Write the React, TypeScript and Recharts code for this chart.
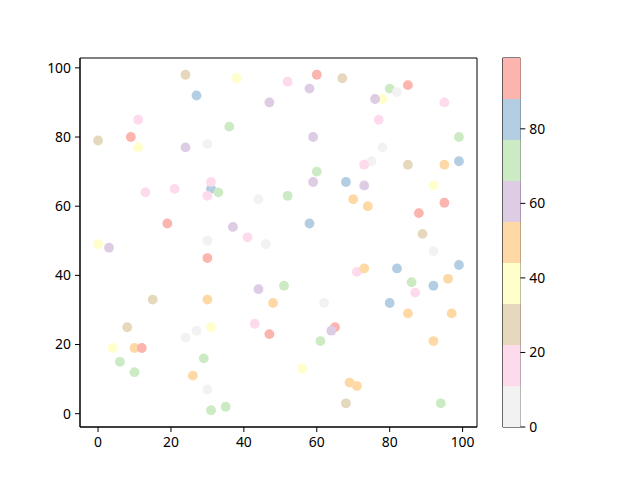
import React from 'react';
import { ScatterChart, Scatter, XAxis, YAxis, ReferenceArea, BarChart, Bar } from 'recharts';

// Point data
const xs = [24, 38, 27, 47, 52, 60, 67, 58, 80, 82, 78, 76, 85, 95, 11, 9, 0, 11, 24, 30, 36, 59, 77, 78, 99, 99, 95, 85, 75, 73, 60, 59, 68, 73, 92, 52, 44, 31, 31, 33, 30, 21, 13, 19, 37, 41, 30, 46, 58, 70, 74, 88, 95, 89, 92, 99, 96, 0, 3, 30, 71, 73, 82, 86, 87, 92, 80, 85, 97, 92, 15, 30, 44, 51, 48, 62, 8, 4, 10, 12, 6, 10, 24, 27, 31, 29, 26, 30, 31, 35, 43, 47, 61, 65, 64, 56, 69, 71, 68, 94];
const ys = [98, 97, 92, 90, 96, 98, 97, 94, 94, 93, 91, 91, 95, 90, 85, 80, 79, 77, 77, 78, 83, 80, 85, 77, 80, 73, 72, 72, 73, 72, 70, 67, 67, 66, 66, 63, 62, 65, 67, 64, 63, 65, 64, 55, 54, 51, 50, 49, 55, 62, 60, 58, 61, 52, 47, 43, 39, 49, 48, 45, 41, 42, 42, 38, 35, 37, 32, 29, 29, 21, 33, 33, 36, 37, 32, 32, 25, 19, 19, 19, 15, 12, 22, 24, 25, 16, 11, 7, 1, 2, 26, 23, 21, 25, 24, 13, 9, 8, 3, 3];
const cs = [27, 38, 82, 60, 16, 93, 27, 60, 71, 5, 38, 60, 93, 16, 16, 93, 27, 38, 60, 5, 71, 60, 16, 5, 71, 82, 49, 27, 5, 16, 71, 60, 82, 60, 38, 71, 5, 82, 16, 71, 16, 16, 16, 93, 60, 16, 5, 5, 82, 49, 49, 93, 93, 27, 5, 82, 49, 38, 60, 93, 16, 49, 82, 71, 16, 82, 82, 49, 49, 49, 27, 49, 60, 71, 49, 5, 27, 38, 49, 93, 71, 71, 5, 5, 38, 71, 49, 5, 71, 71, 16, 93, 71, 93, 60, 38, 49, 49, 27, 71];

const xTicks = [0, 20, 40, 60, 80, 100];
const yTicks = [0, 20, 40, 60, 80, 100];
const cbTicks = [0, 20, 40, 60, 80];
const cMin = 0;
const cMax = 99;
const cbKeys = ['s0', 's1', 's2', 's3', 's4', 's5', 's6', 's7', 's8'];
const pastel1r = ['#f2f2f2', '#fddaec', '#e5d8bd', '#ffffcc', '#fed9a6', '#decbe4', '#ccebc5', '#b3cde3', '#fbb4ae'];

const colorFor = (c: number) => {
  const n = pastel1r.length;
  let i = Math.floor(((c - cMin) / (cMax - cMin)) * n);
  if (i >= n) i = n - 1;
  if (i < 0) i = 0;
  return pastel1r[i];
};

const points = xs.map((x, i) => ({ x, y: ys[i], c: cs[i], color: colorFor(cs[i]) }));

const cbRow: Record<string, number | string> = { name: 'cb' };
cbKeys.forEach((k) => {
  cbRow[k] = (cMax - cMin) / cbKeys.length;
});
const cbData = [cbRow];

const font = { fontFamily: 'Noto Sans', fontSize: 13.9, fill: '#000' };
const XD: [number, number] = [-4.95, 103.95];
const YD: [number, number] = [-3.85, 102.85];

const Dot = (props: any) => {
  const { cx, cy, payload } = props;
  if (cx == null || cy == null) return null;
  return <circle cx={cx} cy={cy} r={4.9} fill={payload.color} />;
};

export default function App() {
  return (
    <div style={{ position: 'fixed', left: 0, top: 0, width: 640, height: 480, background: '#fff' }}>
      <div style={{ position: 'absolute', left: 0, top: 0 }}>
        <ScatterChart width={640} height={480} margin={{ top: 58, right: 163, bottom: 23, left: 20 }}>
          <XAxis
            type="number"
            dataKey="x"
            domain={XD}
            ticks={xTicks}
            allowDataOverflow
            height={30}
            tick={font}
            tickSize={5}
            tickMargin={5}
            stroke="#000"
            axisLine={{ stroke: '#000' }}
            tickLine={{ stroke: '#000' }}
          />
          <YAxis
            type="number"
            dataKey="y"
            domain={YD}
            ticks={yTicks}
            allowDataOverflow
            width={60}
            tick={font}
            tickSize={5}
            tickMargin={4}
            stroke="#000"
            axisLine={{ stroke: '#000' }}
            tickLine={{ stroke: '#000' }}
          />
          <ReferenceArea x1={XD[0]} x2={XD[1]} y1={YD[0]} y2={YD[1]} fill="none" stroke="#000" strokeWidth={1} fillOpacity={0} />
          <Scatter data={points} isAnimationActive={false} shape={Dot} />
        </ScatterChart>
      </div>
      <div style={{ position: 'absolute', left: 0, top: 0 }}>
        <BarChart
          width={640}
          height={480}
          data={cbData}
          margin={{ top: 58, right: 79.7, bottom: 53, left: 502.7 }}
          barCategoryGap={0}
          barGap={0}
        >
          <XAxis dataKey="name" type="category" hide />
          <YAxis
            orientation="right"
            type="number"
            domain={[cMin, cMax]}
            ticks={cbTicks}
            allowDataOverflow
            width={40}
            tick={font}
            tickSize={5}
            tickMargin={4}
            axisLine={false}
            tickLine={{ stroke: '#000' }}
          />
          {cbKeys.map((k, i) => (
            <Bar key={k} dataKey={k} stackId="cb" fill={pastel1r[i]} isAnimationActive={false} />
          ))}
          <ReferenceArea x1="cb" x2="cb" y1={cMin} y2={cMax} fill="none" fillOpacity={0} stroke="#000" strokeWidth={1} />
        </BarChart>
      </div>
    </div>
  );
}
